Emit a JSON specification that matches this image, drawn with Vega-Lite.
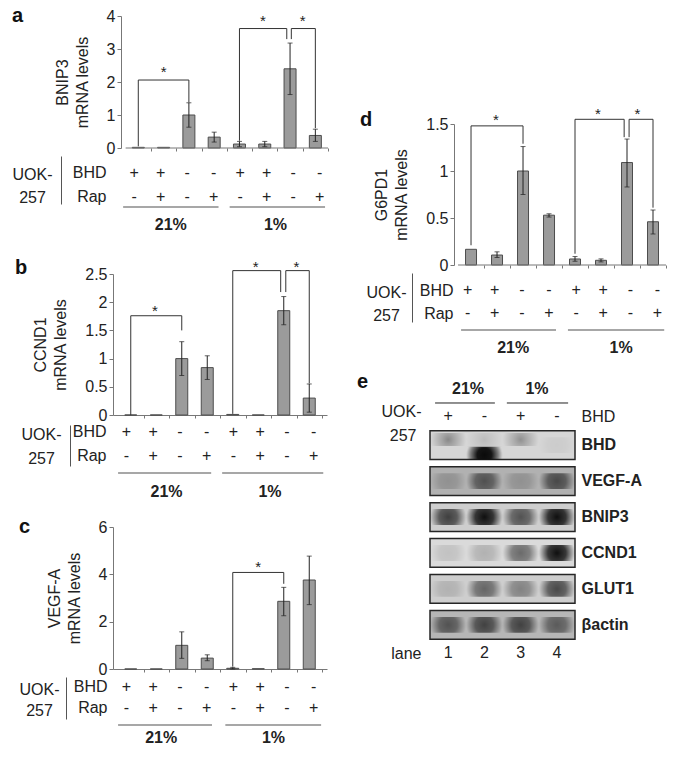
{
"$schema": "https://vega.github.io/schema/vega-lite/v6.json",
"background": "white",
"padding": {"left": 12, "top": 6, "right": 0, "bottom": 0},
"config": {
 "font": "Liberation Sans",
 "view": {"stroke": null},
 "axis": {"labelFontSize": 16, "titleFontSize": 16, "titleFontWeight": "normal", "labelColor": "#222", "titleColor": "#222", "domainColor": "#777", "tickColor": "#777", "grid": false, "labelOverlap": false},
 "title": {"fontSize": 20, "fontWeight": "bold", "color": "#111", "anchor": "start", "frame": "bounds"}
},
"datasets": {
 "a": [{"i":1,"v":0.02},{"i":2,"v":0.02},{"i":3,"v":1.0,"lo":0.63,"hi":1.37},{"i":4,"v":0.33,"lo":0.18,"hi":0.48},{"i":5,"v":0.12,"lo":0.04,"hi":0.2},{"i":6,"v":0.12,"lo":0.04,"hi":0.2},{"i":7,"v":2.4,"lo":1.62,"hi":3.18},{"i":8,"v":0.38,"lo":0.2,"hi":0.57}],
 "abr": [{"x1":1,"x2":3,"top":2.06,"yl":0.05,"yr":1.38,"xs":2,"ys":2.3},{"x1":5,"x2":6.87,"top":3.62,"yl":0.22,"yr":3.3,"xs":5.93,"ys":3.86},{"x1":7.05,"x2":8,"top":3.62,"yl":3.3,"yr":0.6,"xs":7.5,"ys":3.86}],
 "b": [{"i":1,"v":0},{"i":2,"v":0},{"i":3,"v":1.0,"lo":0.7,"hi":1.3},{"i":4,"v":0.84,"lo":0.63,"hi":1.05},{"i":5,"v":0.01},{"i":6,"v":0},{"i":7,"v":1.85,"lo":1.6,"hi":2.1},{"i":8,"v":0.3,"lo":0.05,"hi":0.55}],
 "bbr": [{"x1":1,"x2":3,"top":1.76,"yl":0,"yr":1.5,"xs":1.95,"ys":1.84},{"x1":5,"x2":6.88,"top":2.56,"yl":0.02,"yr":2.18,"xs":5.9,"ys":2.63},{"x1":7.08,"x2":8,"top":2.56,"yl":2.18,"yr":0.56,"xs":7.5,"ys":2.63}],
 "c": [{"i":1,"v":0},{"i":2,"v":0},{"i":3,"v":1.0,"lo":0.45,"hi":1.57},{"i":4,"v":0.46,"lo":0.35,"hi":0.6},{"i":5,"v":0.03,"lo":0.0,"hi":0.07},{"i":6,"v":0.01},{"i":7,"v":2.86,"lo":2.25,"hi":3.45},{"i":8,"v":3.76,"lo":2.72,"hi":4.77}],
 "cbr": [{"x1":5,"x2":7,"top":4.08,"yl":0.1,"yr":3.6,"xs":6,"ys":4.3}],
 "d": [{"i":1,"v":0.167},{"i":2,"v":0.106,"lo":0.08,"hi":0.14},{"i":3,"v":1.0,"lo":0.75,"hi":1.26},{"i":4,"v":0.53,"lo":0.51,"hi":0.545},{"i":5,"v":0.064,"lo":0.04,"hi":0.09},{"i":6,"v":0.05,"lo":0.033,"hi":0.065},{"i":7,"v":1.09,"lo":0.83,"hi":1.34},{"i":8,"v":0.46,"lo":0.33,"hi":0.585}],
 "dbr": [{"x1":1,"x2":3,"top":1.48,"yl":0.21,"yr":1.29,"xs":1.96,"ys":1.54},{"x1":5,"x2":6.89,"top":1.55,"yl":0.12,"yr":1.36,"xs":5.88,"ys":1.61},{"x1":7.08,"x2":8,"top":1.55,"yl":1.36,"yr":0.61,"xs":7.4,"ys":1.61}],
 "cond": [{"i":1,"row":"BHD","s":"+"},{"i":2,"row":"BHD","s":"+"},{"i":3,"row":"BHD","s":"-"},{"i":4,"row":"BHD","s":"-"},{"i":5,"row":"BHD","s":"+"},{"i":6,"row":"BHD","s":"+"},{"i":7,"row":"BHD","s":"-"},{"i":8,"row":"BHD","s":"-"},{"i":1,"row":"Rap","s":"-"},{"i":2,"row":"Rap","s":"+"},{"i":3,"row":"Rap","s":"-"},{"i":4,"row":"Rap","s":"+"},{"i":5,"row":"Rap","s":"-"},{"i":6,"row":"Rap","s":"+"},{"i":7,"row":"Rap","s":"-"},{"i":8,"row":"Rap","s":"+"}],
 "ga": [{"g":"21%","x1":0.58,"x2":4.18,"xm":2.38},{"g":"1%","x1":4.6,"x2":8.2,"xm":6.33}],
 "gb": [{"g":"21%","x1":0.69,"x2":4.17,"xm":2.5},{"g":"1%","x1":4.58,"x2":8.36,"xm":6.37}],
 "gc": [{"g":"21%","x1":0.69,"x2":4.2,"xm":2.3},{"g":"1%","x1":4.7,"x2":8.28,"xm":6.5}],
 "gd": [{"g":"21%","x1":0.76,"x2":4.26,"xm":2.68},{"g":"1%","x1":4.7,"x2":8.25,"xm":6.66}],
 "epct": [{"t":"21%","x":1.55},{"t":"1%","x":3.45}],
 "eline": [{"x1":0.64,"x2":2.29},{"x1":2.62,"x2":4.31}],
 "esign": [{"x":1,"t":"+"},{"x":2,"t":"-"},{"x":3,"t":"+"},{"x":4,"t":"-"}],
 "elane": [{"x":1,"t":"1"},{"x":2,"t":"2"},{"x":3,"t":"3"},{"x":4,"t":"4"}],
 "eprot": [{"p":"BHD","bg":0.22},{"p":"VEGF-A","bg":0.6},{"p":"BNIP3","bg":0.3},{"p":"CCND1","bg":0.18},{"p":"GLUT1","bg":0.3},{"p":"βactin","bg":0.55}],
 "eband": [
  {"p":"BHD","lane":1,"v":0.45,"pos":"high"},{"p":"BHD","lane":2,"v":1.0,"pos":"low"},{"p":"BHD","lane":2,"v":0.15,"pos":"high"},{"p":"BHD","lane":3,"v":0.4,"pos":"high"},{"p":"BHD","lane":4,"v":0.05,"pos":"mid"},
  {"p":"VEGF-A","lane":1,"v":0.2,"pos":"mid"},{"p":"VEGF-A","lane":2,"v":0.6,"pos":"mid"},{"p":"VEGF-A","lane":3,"v":0.2,"pos":"mid"},{"p":"VEGF-A","lane":4,"v":0.65,"pos":"mid"},
  {"p":"BNIP3","lane":1,"v":0.75,"pos":"mid"},{"p":"BNIP3","lane":2,"v":1.0,"pos":"mid"},{"p":"BNIP3","lane":3,"v":0.65,"pos":"mid"},{"p":"BNIP3","lane":4,"v":1.0,"pos":"mid"},
  {"p":"CCND1","lane":1,"v":0.12,"pos":"mid"},{"p":"CCND1","lane":2,"v":0.2,"pos":"mid"},{"p":"CCND1","lane":3,"v":0.55,"pos":"mid"},{"p":"CCND1","lane":4,"v":1.0,"pos":"mid"},
  {"p":"GLUT1","lane":1,"v":0.15,"pos":"mid"},{"p":"GLUT1","lane":2,"v":0.55,"pos":"mid"},{"p":"GLUT1","lane":3,"v":0.4,"pos":"mid"},{"p":"GLUT1","lane":4,"v":0.7,"pos":"mid"},
  {"p":"βactin","lane":1,"v":0.6,"pos":"mid"},{"p":"βactin","lane":2,"v":0.7,"pos":"mid"},{"p":"βactin","lane":3,"v":0.7,"pos":"mid"},{"p":"βactin","lane":4,"v":0.55,"pos":"mid"}
 ]
},
"spacing": 24,
"hconcat": [
 {"columns": 1, "align": "none", "spacing": 16, "concat": [
  {"title": {"text": "a", "offset": -18}, "spacing": 0, "vconcat": [
   {"width": 220, "height": 132, "layer": [
    {"data": {"name": "a"}, "mark": {"type": "bar", "orient": "vertical", "width": 12, "fill": "#9b9b9b", "stroke": "#4d4d4d", "strokeWidth": 1},
     "encoding": {"x": {"field": "i", "type": "quantitative", "scale": {"domain": [0.198, 8.5], "nice": false, "zero": false}, "axis": {"values": [1.5,2.5,3.5,4.5,5.5,6.5,7.5,8.5], "tickCount": 20, "labels": false, "domain": false, "tickSize": 3, "title": null}},
      "y": {"field": "v", "type": "quantitative", "scale": {"domain": [0, 4], "nice": false}, "axis": {"values": [0,1,2,3,4], "tickCount": 20, "format": "~g", "offset": -8, "tickSize": 4, "labelPadding": 2, "title": ["BNIP3", "mRNA levels"], "titlePadding": 16, "titleLineHeight": 20}}}},
    {"data": {"values": [{}]}, "mark": {"type": "rule", "color": "#777"}, "encoding": {"x": {"datum": 0.5, "type": "quantitative"}, "x2": {"datum": 8.5}, "y": {"datum": 0, "type": "quantitative"}}},
    {"data": {"name": "a"}, "mark": {"type": "rule", "color": "#222"}, "encoding": {"x": {"field": "i", "type": "quantitative"}, "y": {"field": "lo", "type": "quantitative"}, "y2": {"field": "hi"}}},
    {"data": {"name": "a"}, "mark": {"type": "tick", "orient": "horizontal", "size": 5, "thickness": 1, "color": "#222"}, "encoding": {"x": {"field": "i", "type": "quantitative"}, "y": {"field": "hi", "type": "quantitative"}}},
    {"data": {"name": "a"}, "mark": {"type": "tick", "orient": "horizontal", "size": 5, "thickness": 1, "color": "#222"}, "encoding": {"x": {"field": "i", "type": "quantitative"}, "y": {"field": "lo", "type": "quantitative"}}},
    {"data": {"name": "abr"}, "mark": {"type": "rule", "color": "#333"}, "encoding": {"x": {"field": "x1", "type": "quantitative"}, "y": {"field": "yl", "type": "quantitative"}, "y2": {"field": "top"}}},
    {"data": {"name": "abr"}, "mark": {"type": "rule", "color": "#333"}, "encoding": {"x": {"field": "x2", "type": "quantitative"}, "y": {"field": "yr", "type": "quantitative"}, "y2": {"field": "top"}}},
    {"data": {"name": "abr"}, "mark": {"type": "rule", "color": "#333"}, "encoding": {"x": {"field": "x1", "type": "quantitative"}, "x2": {"field": "x2"}, "y": {"field": "top", "type": "quantitative"}}},
    {"data": {"name": "abr"}, "mark": {"type": "text", "text": "*", "fontSize": 15, "color": "#222"}, "encoding": {"x": {"field": "xs", "type": "quantitative"}, "y": {"field": "ys", "type": "quantitative"}}}
   ]},
   {"width": 220, "height": 48, "data": {"name": "cond"}, "mark": {"type": "text", "fontSize": 16, "color": "#222"},
    "encoding": {"x": {"field": "i", "type": "quantitative", "scale": {"domain": [0.198, 8.5], "nice": false, "zero": false}, "axis": null},
     "y": {"field": "row", "type": "nominal", "scale": {"type": "point", "domain": ["BHD", "Rap"], "padding": 0.5, "align": 0.708}, "axis": {"orient": "left", "offset": 52, "domain": true, "domainColor": "#555", "ticks": false, "labelPadding": -45, "labelAlign": "right", "title": ["UOK-", "257"], "titleAngle": 0, "titleAlign": "center", "titleBaseline": "middle", "titleX": -29, "titleY": 18, "titleLineHeight": 23}},
     "text": {"field": "s"}}},
   {"width": 220, "height": 36, "data": {"name": "ga"}, "layer": [
    {"mark": {"type": "rule", "color": "#8a8a8a", "strokeWidth": 1.5}, "encoding": {"x": {"field": "x1", "type": "quantitative", "scale": {"domain": [0.198, 8.5], "nice": false, "zero": false}, "axis": null}, "x2": {"field": "x2"}, "y": {"datum": "line", "type": "nominal", "scale": {"type": "point", "domain": ["line", "pct"], "padding": 0.5, "align": 0.11}, "axis": null}}},
    {"mark": {"type": "text", "fontSize": 16, "fontWeight": "bold", "color": "#222"}, "encoding": {"x": {"field": "xm", "type": "quantitative", "axis": null}, "y": {"datum": "pct", "type": "nominal", "axis": null}, "text": {"field": "g"}}}
   ]}
  ]},
  {"title": {"text": "b", "offset": -18, "dx": -6}, "spacing": 0, "vconcat": [
   {"width": 214, "height": 141, "layer": [
    {"data": {"name": "b"}, "mark": {"type": "bar", "orient": "vertical", "width": 12, "fill": "#9b9b9b", "stroke": "#4d4d4d", "strokeWidth": 1},
     "encoding": {"x": {"field": "i", "type": "quantitative", "scale": {"domain": [0.5, 8.5], "nice": false, "zero": false}, "axis": {"values": [1.5,2.5,3.5,4.5,5.5,6.5,7.5,8.5], "tickCount": 20, "labels": false, "tickSize": 3, "title": null}},
      "y": {"field": "v", "type": "quantitative", "scale": {"domain": [0, 2.5], "nice": false}, "axis": {"values": [0,0.5,1,1.5,2,2.5], "tickCount": 20, "format": "~g", "tickSize": 4, "labelPadding": 2, "title": ["CCND1", "mRNA levels"], "titlePadding": 16, "titleLineHeight": 20}}}},
    {"data": {"name": "b"}, "mark": {"type": "rule", "color": "#222"}, "encoding": {"x": {"field": "i", "type": "quantitative"}, "y": {"field": "lo", "type": "quantitative"}, "y2": {"field": "hi"}}},
    {"data": {"name": "b"}, "mark": {"type": "tick", "orient": "horizontal", "size": 5, "thickness": 1, "color": "#222"}, "encoding": {"x": {"field": "i", "type": "quantitative"}, "y": {"field": "hi", "type": "quantitative"}}},
    {"data": {"name": "b"}, "mark": {"type": "tick", "orient": "horizontal", "size": 5, "thickness": 1, "color": "#222"}, "encoding": {"x": {"field": "i", "type": "quantitative"}, "y": {"field": "lo", "type": "quantitative"}}},
    {"data": {"name": "bbr"}, "mark": {"type": "rule", "color": "#333"}, "encoding": {"x": {"field": "x1", "type": "quantitative"}, "y": {"field": "yl", "type": "quantitative"}, "y2": {"field": "top"}}},
    {"data": {"name": "bbr"}, "mark": {"type": "rule", "color": "#333"}, "encoding": {"x": {"field": "x2", "type": "quantitative"}, "y": {"field": "yr", "type": "quantitative"}, "y2": {"field": "top"}}},
    {"data": {"name": "bbr"}, "mark": {"type": "rule", "color": "#333"}, "encoding": {"x": {"field": "x1", "type": "quantitative"}, "x2": {"field": "x2"}, "y": {"field": "top", "type": "quantitative"}}},
    {"data": {"name": "bbr"}, "mark": {"type": "text", "text": "*", "fontSize": 15, "color": "#222"}, "encoding": {"x": {"field": "xs", "type": "quantitative"}, "y": {"field": "ys", "type": "quantitative"}}}
   ]},
   {"width": 214, "height": 41, "data": {"name": "cond"}, "mark": {"type": "text", "fontSize": 16, "color": "#222"},
    "encoding": {"x": {"field": "i", "type": "quantitative", "scale": {"domain": [0.5, 8.5], "nice": false, "zero": false}, "axis": null},
     "y": {"field": "row", "type": "nominal", "scale": {"type": "point", "domain": ["BHD", "Rap"], "padding": 0.354, "align": 0.41}, "axis": {"orient": "left", "offset": 43, "domain": true, "domainColor": "#555", "ticks": false, "labelPadding": -36, "labelAlign": "right", "title": ["UOK-", "257"], "titleAngle": 0, "titleAlign": "center", "titleBaseline": "middle", "titleX": -29, "titleY": 9, "titleLineHeight": 24}},
     "text": {"field": "s"}}},
   {"width": 214, "height": 35, "data": {"name": "gb"}, "layer": [
    {"mark": {"type": "rule", "color": "#8a8a8a", "strokeWidth": 1.5}, "encoding": {"x": {"field": "x1", "type": "quantitative", "scale": {"domain": [0.5, 8.5], "nice": false, "zero": false}, "axis": null}, "x2": {"field": "x2"}, "y": {"datum": "line", "type": "nominal", "scale": {"type": "point", "domain": ["line", "pct"], "padding": 0.421, "align": 0.4375}, "axis": null}}},
    {"mark": {"type": "text", "fontSize": 16, "fontWeight": "bold", "color": "#222"}, "encoding": {"x": {"field": "xm", "type": "quantitative", "axis": null}, "y": {"datum": "pct", "type": "nominal", "axis": null}, "text": {"field": "g"}}}
   ]}
  ]},
  {"title": {"text": "c", "offset": -18}, "spacing": 0, "vconcat": [
   {"width": 214, "height": 142, "layer": [
    {"data": {"name": "c"}, "mark": {"type": "bar", "orient": "vertical", "width": 12, "fill": "#9b9b9b", "stroke": "#4d4d4d", "strokeWidth": 1},
     "encoding": {"x": {"field": "i", "type": "quantitative", "scale": {"domain": [0.5, 8.5], "nice": false, "zero": false}, "axis": {"values": [1.5,2.5,3.5,4.5,5.5,6.5,7.5,8.5], "tickCount": 20, "labels": false, "tickSize": 3, "title": null}},
      "y": {"field": "v", "type": "quantitative", "scale": {"domain": [0, 6], "nice": false}, "axis": {"values": [0,2,4,6], "tickCount": 20, "format": "~g", "tickSize": 4, "labelPadding": 2, "title": ["VEGF-A", "mRNA levels"], "titlePadding": 16, "titleLineHeight": 20}}}},
    {"data": {"name": "c"}, "mark": {"type": "rule", "color": "#222"}, "encoding": {"x": {"field": "i", "type": "quantitative"}, "y": {"field": "lo", "type": "quantitative"}, "y2": {"field": "hi"}}},
    {"data": {"name": "c"}, "mark": {"type": "tick", "orient": "horizontal", "size": 5, "thickness": 1, "color": "#222"}, "encoding": {"x": {"field": "i", "type": "quantitative"}, "y": {"field": "hi", "type": "quantitative"}}},
    {"data": {"name": "c"}, "mark": {"type": "tick", "orient": "horizontal", "size": 5, "thickness": 1, "color": "#222"}, "encoding": {"x": {"field": "i", "type": "quantitative"}, "y": {"field": "lo", "type": "quantitative"}}},
    {"data": {"name": "cbr"}, "mark": {"type": "rule", "color": "#333"}, "encoding": {"x": {"field": "x1", "type": "quantitative"}, "y": {"field": "yl", "type": "quantitative"}, "y2": {"field": "top"}}},
    {"data": {"name": "cbr"}, "mark": {"type": "rule", "color": "#333"}, "encoding": {"x": {"field": "x2", "type": "quantitative"}, "y": {"field": "yr", "type": "quantitative"}, "y2": {"field": "top"}}},
    {"data": {"name": "cbr"}, "mark": {"type": "rule", "color": "#333"}, "encoding": {"x": {"field": "x1", "type": "quantitative"}, "x2": {"field": "x2"}, "y": {"field": "top", "type": "quantitative"}}},
    {"data": {"name": "cbr"}, "mark": {"type": "text", "text": "*", "fontSize": 15, "color": "#222"}, "encoding": {"x": {"field": "xs", "type": "quantitative"}, "y": {"field": "ys", "type": "quantitative"}}}
   ]},
   {"width": 214, "height": 42, "data": {"name": "cond"}, "mark": {"type": "text", "fontSize": 16, "color": "#222"},
    "encoding": {"x": {"field": "i", "type": "quantitative", "scale": {"domain": [0.5, 8.5], "nice": false, "zero": false}, "axis": null},
     "y": {"field": "row", "type": "nominal", "scale": {"type": "point", "domain": ["BHD", "Rap"], "padding": 0.5, "align": 0.476}, "axis": {"orient": "left", "offset": 47, "domain": true, "domainColor": "#555", "ticks": false, "labelPadding": -41, "labelAlign": "right", "title": ["UOK-", "257"], "titleAngle": 0, "titleAlign": "center", "titleBaseline": "middle", "titleX": -27, "titleY": 12, "titleLineHeight": 21}},
     "text": {"field": "s"}}},
   {"width": 214, "height": 28, "data": {"name": "gc"}, "layer": [
    {"mark": {"type": "rule", "color": "#8a8a8a", "strokeWidth": 1.5}, "encoding": {"x": {"field": "x1", "type": "quantitative", "scale": {"domain": [0.5, 8.5], "nice": false, "zero": false}, "axis": null}, "x2": {"field": "x2"}, "y": {"datum": "line", "type": "nominal", "scale": {"type": "point", "domain": ["line", "pct"], "padding": 0.577, "align": 0.4}, "axis": null}}},
    {"mark": {"type": "text", "fontSize": 16, "fontWeight": "bold", "color": "#222"}, "encoding": {"x": {"field": "xm", "type": "quantitative", "axis": null}, "y": {"datum": "pct", "type": "nominal", "axis": null}, "text": {"field": "g"}}}
   ]}
  ]}
 ]},
 {"columns": 1, "align": "none", "spacing": 15, "concat": [
  {"width": 20, "height": 75, "data": {"values": [{"t": ""}]}, "mark": {"type": "text"}, "encoding": {"text": {"field": "t"}}},
  {"title": {"text": "d", "offset": -23, "dx": -6}, "spacing": 0, "vconcat": [
   {"width": 241, "height": 141, "layer": [
    {"data": {"name": "d"}, "mark": {"type": "bar", "orient": "vertical", "width": 11, "fill": "#9b9b9b", "stroke": "#4d4d4d", "strokeWidth": 1},
     "encoding": {"x": {"field": "i", "type": "quantitative", "scale": {"domain": [-0.386, 8.5], "nice": false, "zero": false}, "axis": {"values": [1.5,2.5,3.5,4.5,5.5,6.5,7.5,8.5], "tickCount": 20, "labels": false, "domain": false, "tickSize": 3, "title": null}},
      "y": {"field": "v", "type": "quantitative", "scale": {"domain": [0, 1.5], "nice": false}, "axis": {"values": [0,0.5,1,1.5], "tickCount": 20, "format": "~g", "offset": -24, "tickSize": 4, "labelPadding": 2, "title": ["G6PD1", "mRNA levels"], "titlePadding": 16, "titleLineHeight": 20}}}},
    {"data": {"values": [{}]}, "mark": {"type": "rule", "color": "#777"}, "encoding": {"x": {"datum": 0.5, "type": "quantitative"}, "x2": {"datum": 8.5}, "y": {"datum": 0, "type": "quantitative"}}},
    {"data": {"name": "d"}, "mark": {"type": "rule", "color": "#222"}, "encoding": {"x": {"field": "i", "type": "quantitative"}, "y": {"field": "lo", "type": "quantitative"}, "y2": {"field": "hi"}}},
    {"data": {"name": "d"}, "mark": {"type": "tick", "orient": "horizontal", "size": 5, "thickness": 1, "color": "#222"}, "encoding": {"x": {"field": "i", "type": "quantitative"}, "y": {"field": "hi", "type": "quantitative"}}},
    {"data": {"name": "d"}, "mark": {"type": "tick", "orient": "horizontal", "size": 5, "thickness": 1, "color": "#222"}, "encoding": {"x": {"field": "i", "type": "quantitative"}, "y": {"field": "lo", "type": "quantitative"}}},
    {"data": {"name": "dbr"}, "mark": {"type": "rule", "color": "#333"}, "encoding": {"x": {"field": "x1", "type": "quantitative"}, "y": {"field": "yl", "type": "quantitative"}, "y2": {"field": "top"}}},
    {"data": {"name": "dbr"}, "mark": {"type": "rule", "color": "#333"}, "encoding": {"x": {"field": "x2", "type": "quantitative"}, "y": {"field": "yr", "type": "quantitative"}, "y2": {"field": "top"}}},
    {"data": {"name": "dbr"}, "mark": {"type": "rule", "color": "#333"}, "encoding": {"x": {"field": "x1", "type": "quantitative"}, "x2": {"field": "x2"}, "y": {"field": "top", "type": "quantitative"}}},
    {"data": {"name": "dbr"}, "mark": {"type": "text", "text": "*", "fontSize": 15, "color": "#222"}, "encoding": {"x": {"field": "xs", "type": "quantitative"}, "y": {"field": "ys", "type": "quantitative"}}}
   ]},
   {"width": 241, "height": 49, "data": {"name": "cond"}, "mark": {"type": "text", "fontSize": 16, "color": "#222"},
    "encoding": {"x": {"field": "i", "type": "quantitative", "scale": {"domain": [-0.386, 8.5], "nice": false, "zero": false}, "axis": null},
     "y": {"field": "row", "type": "nominal", "scale": {"type": "point", "domain": ["BHD", "Rap"], "padding": 0.565, "align": 0.654}, "axis": {"orient": "left", "offset": 18, "domain": true, "domainColor": "#555", "ticks": false, "labelPadding": -41, "labelAlign": "right", "title": ["UOK-", "257"], "titleAngle": 0, "titleAlign": "center", "titleBaseline": "middle", "titleX": -26, "titleY": 19, "titleLineHeight": 23}},
     "text": {"field": "s"}}},
   {"width": 241, "height": 33, "data": {"name": "gd"}, "layer": [
    {"mark": {"type": "rule", "color": "#8a8a8a", "strokeWidth": 1.5}, "encoding": {"x": {"field": "x1", "type": "quantitative", "scale": {"domain": [-0.386, 8.5], "nice": false, "zero": false}, "axis": null}, "x2": {"field": "x2"}, "y": {"datum": "line", "type": "nominal", "scale": {"type": "point", "domain": ["line", "pct"], "padding": 0.417, "align": 0.467}, "axis": null}}},
    {"mark": {"type": "text", "fontSize": 16, "fontWeight": "bold", "color": "#222"}, "encoding": {"x": {"field": "xm", "type": "quantitative", "axis": null}, "y": {"datum": "pct", "type": "nominal", "axis": null}, "text": {"field": "g"}}}
   ]}
  ]},
  {"title": {"text": "e", "offset": -16, "dx": -24}, "spacing": 2, "vconcat": [
   {"width": 145, "height": 42, "layer": [
    {"data": {"name": "epct"}, "mark": {"type": "text", "fontSize": 16, "fontWeight": "bold", "color": "#222"},
     "encoding": {"x": {"field": "x", "type": "quantitative", "scale": {"domain": [0.5, 4.5], "nice": false, "zero": false}, "axis": null},
      "y": {"datum": "pct", "type": "nominal", "scale": {"type": "point", "domain": ["pct", "line", "sign"], "padding": 0.556, "align": 0.633}, "axis": {"orient": "left", "labelExpr": "datum.value == 'sign' ? 'UOK-' : ''", "domain": false, "ticks": false, "labelPadding": 9, "labelOffset": -5, "title": null}},
      "text": {"field": "t"}}},
    {"data": {"name": "eline"}, "mark": {"type": "rule", "color": "#222", "strokeWidth": 1}, "encoding": {"x": {"field": "x1", "type": "quantitative", "axis": null}, "x2": {"field": "x2"}, "y": {"datum": "line", "type": "nominal", "axis": null}}},
    {"data": {"name": "esign"}, "mark": {"type": "text", "fontSize": 16, "color": "#222"},
     "encoding": {"x": {"field": "x", "type": "quantitative", "axis": null}, "y": {"datum": "sign", "type": "nominal", "axis": {"orient": "right", "labelExpr": "datum.value == 'sign' ? 'BHD' : ''", "domain": false, "ticks": false, "labelPadding": 6, "title": null}}, "text": {"field": "t"}}}
   ], "resolve": {"axis": {"y": "independent"}}},
   {"width": 145, "height": 210, "layer": [
    {"data": {"name": "eprot"}, "mark": {"type": "rect", "stroke": "#262626", "strokeWidth": 1.5},
     "encoding": {"y": {"field": "p", "type": "nominal", "sort": null, "scale": {"domain": ["BHD", "VEGF-A", "BNIP3", "CCND1", "GLUT1", "βactin"], "paddingInner": 0.2, "paddingOuter": 0.02}, "axis": {"orient": "left", "labelExpr": "datum.value == 'BHD' ? '257' : ''", "domain": false, "ticks": false, "labelPadding": 14, "labelOffset": -9, "title": null}},
      "color": {"field": "bg", "type": "quantitative", "scale": {"domain": [0, 1], "range": ["#ececec", "#8c8c8c"]}, "legend": null}}},
    {"data": {"name": "eband"}, "transform": [{"filter": "datum.pos == 'mid'"}],
     "mark": {"type": "rect", "fill": {"gradient": "radial", "x1": 0.5, "y1": 0.5, "r1": 0, "x2": 0.5, "y2": 0.5, "r2": 0.5, "stops": [{"offset": 0, "color": "rgba(15,15,15,1)"}, {"offset": 0.5, "color": "rgba(15,15,15,0.8)"}, {"offset": 1, "color": "rgba(15,15,15,0)"}]}},
     "encoding": {"x": {"field": "lane", "type": "nominal", "scale": {"domain": [1, 2, 3, 4], "paddingInner": 0, "paddingOuter": 0}, "axis": null},
      "y": {"field": "p", "type": "nominal", "sort": null, "scale": {"domain": ["BHD", "VEGF-A", "BNIP3", "CCND1", "GLUT1", "βactin"], "paddingInner": 0.56, "paddingOuter": 0.2}, "axis": {"orient": "right", "labelFontWeight": "bold", "domain": false, "ticks": false, "labelPadding": 6, "title": null}},
      "opacity": {"field": "v", "type": "quantitative", "scale": {"domain": [0, 1], "range": [0, 1]}, "legend": null}}},
    {"data": {"name": "eband"}, "transform": [{"filter": "datum.pos == 'low'"}],
     "mark": {"type": "rect", "fill": {"gradient": "radial", "x1": 0.5, "y1": 0.55, "r1": 0, "x2": 0.5, "y2": 0.55, "r2": 0.5, "stops": [{"offset": 0, "color": "rgba(10,10,10,1)"}, {"offset": 0.4, "color": "rgba(10,10,10,0.95)"}, {"offset": 0.75, "color": "rgba(10,10,10,0.45)"}, {"offset": 1, "color": "rgba(10,10,10,0)"}]}},
     "encoding": {"x": {"field": "lane", "type": "nominal", "scale": {"domain": [1, 2, 3, 4], "paddingInner": 0, "paddingOuter": 0}, "axis": null},
      "y": {"field": "p", "type": "nominal", "sort": null, "scale": {"domain": ["BHD", "VEGF-A", "BNIP3", "CCND1", "GLUT1", "βactin"], "paddingInner": 0.64, "paddingOuter": 0.24, "align": 0.97}, "axis": null},
      "opacity": {"field": "v", "type": "quantitative", "scale": {"domain": [0, 1], "range": [0, 1]}, "legend": null}}},
    {"data": {"name": "eband"}, "transform": [{"filter": "datum.pos == 'high'"}],
     "mark": {"type": "rect", "fill": {"gradient": "radial", "x1": 0.5, "y1": 0.5, "r1": 0, "x2": 0.5, "y2": 0.5, "r2": 0.5, "stops": [{"offset": 0, "color": "rgba(20,20,20,0.9)"}, {"offset": 0.3, "color": "rgba(20,20,20,0.6)"}, {"offset": 1, "color": "rgba(20,20,20,0)"}]}},
     "encoding": {"x": {"field": "lane", "type": "nominal", "scale": {"domain": [1, 2, 3, 4], "paddingInner": 0, "paddingOuter": 0}, "axis": null},
      "y": {"field": "p", "type": "nominal", "sort": null, "scale": {"domain": ["BHD", "VEGF-A", "BNIP3", "CCND1", "GLUT1", "βactin"], "paddingInner": 0.64, "paddingOuter": 0.24, "align": 0.18}, "axis": null},
      "opacity": {"field": "v", "type": "quantitative", "scale": {"domain": [0, 1], "range": [0, 1]}, "legend": null}}}
   ], "resolve": {"axis": {"y": "independent"}, "scale": {"y": "independent"}}},
   {"width": 145, "height": 20, "data": {"name": "elane"}, "mark": {"type": "text", "fontSize": 16, "color": "#222"},
    "encoding": {"x": {"field": "x", "type": "quantitative", "scale": {"domain": [0.5, 4.5], "nice": false, "zero": false}, "axis": null},
     "y": {"datum": "lane", "type": "nominal", "scale": {"type": "point", "domain": ["lane"], "padding": 0.5}, "axis": {"orient": "left", "domain": false, "ticks": false, "labelPadding": 9, "title": null}},
     "text": {"field": "t"}}}
  ]}
 ]}
]
}
